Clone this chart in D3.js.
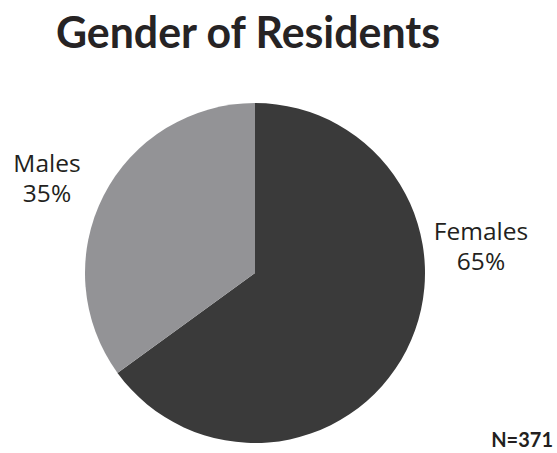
<!DOCTYPE html>
<html><head><meta charset="utf-8">
<script src="https://cdn.jsdelivr.net/npm/d3@7"></script>
<style>html,body{margin:0;padding:0;background:#fff;}</style>
</head><body>
<svg id="chart" width="557" height="453"></svg>
<script>
const categories = ["Females", "Males"];
const values = [65, 35];
const colors = ["#3a3a3a", "#939396"];
const title = "Gender of Residents";
const note = "N=371";

const svg = d3.select("#chart");
const cx = 255, cy = 273, r = 170;
const pie = d3.pie().sort(null).value(d => d.value);
const data = categories.map((c, i) => ({name: c, value: values[i], color: colors[i]}));
const arc = d3.arc().innerRadius(0).outerRadius(r);
const g = svg.append("g").attr("transform", `translate(${cx},${cy})`);
g.selectAll("path").data(pie(data)).join("path")
  .attr("d", arc).attr("fill", d => d.data.color);

svg.append("text").attr("x", 56).attr("y", 48)
  .attr("font-family", "Lato, sans-serif").attr("font-weight", "bold")
  .attr("font-size", 44).attr("fill", "#262324")
  .attr("textLength", 384).attr("lengthAdjust", "spacingAndGlyphs").text(title);

const labelPos = [{x: 481, y: 240}, {x: 47, y: 172}];
data.forEach((d, i) => {
  const lg = svg.append("g").attr("font-family", "'Open Sans', sans-serif")
    .attr("font-size", 24.5).attr("fill", "#231f20").attr("text-anchor", "middle");
  lg.append("text").attr("x", labelPos[i].x).attr("y", labelPos[i].y).text(d.name);
  lg.append("text").attr("x", labelPos[i].x).attr("y", labelPos[i].y + 30).text(d.value + "%");
});

svg.append("text").attr("x", 553).attr("y", 447).attr("text-anchor", "end")
  .attr("font-family", "Lato, sans-serif").attr("font-weight", "bold")
  .attr("font-size", 20).attr("fill", "#231f20").text(note);
</script>
</body></html>
